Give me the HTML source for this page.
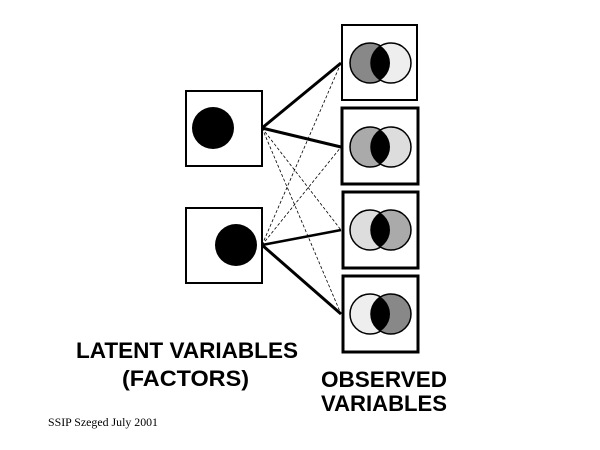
<!DOCTYPE html>
<html><head><style>
body{margin:0;background:#fff;}
svg{display:block;}
.b{font-family:"Liberation Sans",sans-serif;font-weight:bold;font-size:22px;fill:#000;}
</style></head><body>
<svg width="600" height="450" viewBox="0 0 600 450">
<rect width="600" height="450" fill="#fff"/>
<!-- left boxes -->
<rect x="186" y="91" width="76" height="75" fill="#fff" stroke="#000" stroke-width="2"/>
<circle cx="213" cy="128" r="21" fill="#000"/>
<rect x="186" y="208" width="76" height="75" fill="#fff" stroke="#000" stroke-width="2"/>
<circle cx="236" cy="245" r="21" fill="#000"/>
<!-- lines -->
<g stroke="#000" fill="none">
<line x1="262" y1="128" x2="341" y2="63" stroke-width="3"/>
<line x1="262" y1="128" x2="341" y2="147" stroke-width="3"/>
<line x1="262" y1="128" x2="341" y2="230" stroke-width="0.8" stroke-dasharray="3,2"/>
<line x1="262" y1="128" x2="341" y2="314" stroke-width="0.8" stroke-dasharray="3,2"/>
<line x1="262" y1="245" x2="341" y2="63" stroke-width="0.8" stroke-dasharray="3,2"/>
<line x1="262" y1="245" x2="341" y2="147" stroke-width="0.8" stroke-dasharray="3,2"/>
<line x1="262" y1="245" x2="341" y2="230" stroke-width="2.5"/>
<line x1="262" y1="245" x2="341" y2="314" stroke-width="3"/>
</g>
<!-- right boxes -->
<defs>
<clipPath id="c1"><circle cx="370" cy="63" r="20"/></clipPath>
<clipPath id="c2"><circle cx="370" cy="147" r="20"/></clipPath>
<clipPath id="c3"><circle cx="370" cy="230" r="20"/></clipPath>
<clipPath id="c4"><circle cx="370" cy="314" r="20"/></clipPath>
</defs>
<rect x="342" y="25" width="75" height="75" fill="#fff" stroke="#000" stroke-width="2"/>
<circle cx="370" cy="63" r="20" fill="#888" stroke="#000" stroke-width="1.5"/>
<circle cx="391" cy="63" r="20" fill="#eee" stroke="#000" stroke-width="1.5"/>
<circle cx="391" cy="63" r="20" fill="#000" clip-path="url(#c1)"/>

<rect x="342" y="108" width="76" height="76" fill="#fff" stroke="#000" stroke-width="3"/>
<circle cx="370" cy="147" r="20" fill="#aaa" stroke="#000" stroke-width="1.5"/>
<circle cx="391" cy="147" r="20" fill="#ddd" stroke="#000" stroke-width="1.5"/>
<circle cx="391" cy="147" r="20" fill="#000" clip-path="url(#c2)"/>

<rect x="343" y="192" width="75" height="76" fill="#fff" stroke="#000" stroke-width="3"/>
<circle cx="370" cy="230" r="20" fill="#ddd" stroke="#000" stroke-width="1.5"/>
<circle cx="391" cy="230" r="20" fill="#aaa" stroke="#000" stroke-width="1.5"/>
<circle cx="391" cy="230" r="20" fill="#000" clip-path="url(#c3)"/>

<rect x="343" y="276" width="75" height="76" fill="#fff" stroke="#000" stroke-width="3"/>
<circle cx="370" cy="314" r="20" fill="#eee" stroke="#000" stroke-width="1.5"/>
<circle cx="391" cy="314" r="20" fill="#888" stroke="#000" stroke-width="1.5"/>
<circle cx="391" cy="314" r="20" fill="#000" clip-path="url(#c4)"/>
<!-- text -->
<text class="b" x="76" y="358" textLength="222" lengthAdjust="spacingAndGlyphs">LATENT VARIABLES</text>
<text class="b" x="122" y="386" textLength="127" lengthAdjust="spacingAndGlyphs">(FACTORS)</text>
<text class="b" x="321" y="387" textLength="126" lengthAdjust="spacingAndGlyphs">OBSERVED</text>
<text class="b" x="321" y="411" textLength="126" lengthAdjust="spacingAndGlyphs">VARIABLES</text>
<text x="48" y="426" font-family="Liberation Serif,serif" font-size="12" textLength="110" lengthAdjust="spacingAndGlyphs">SSIP Szeged July 2001</text>
</svg>
</body></html>
